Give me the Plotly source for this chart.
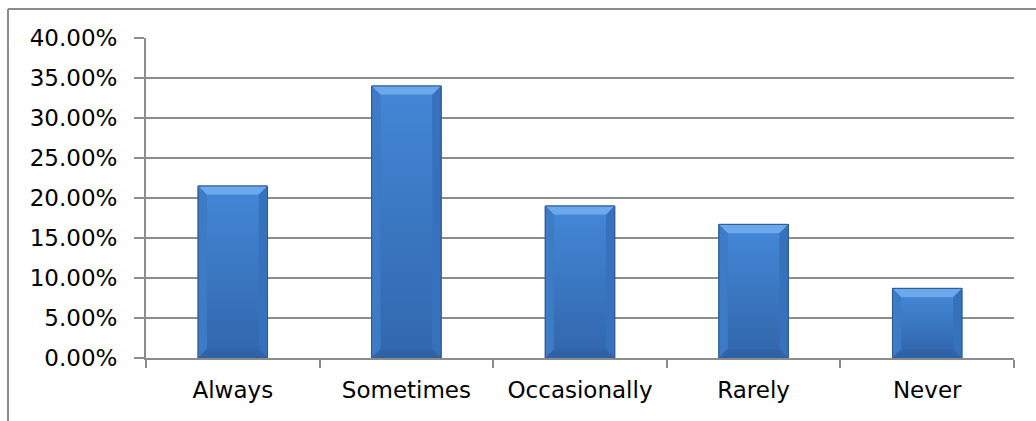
import plotly.graph_objects as go

# Survey response shares
categories = ["Always", "Sometimes", "Occasionally", "Rarely", "Never"]
shares = [0.215, 0.340, 0.190, 0.167, 0.087]

y_ticks = [0.00, 0.05, 0.10, 0.15, 0.20, 0.25, 0.30, 0.35, 0.40]

BAR_W = 0.4      # bar width in category units
BEVEL_X = 0.05   # bevel inset, category units
BEVEL_Y = 0.011  # bevel inset, value units

fig = go.Figure()

# Base bars on the category axis
fig.add_trace(go.Bar(
    x=categories, y=shares, width=BAR_W,
    marker=dict(color="#3A75BF", line=dict(color="#2C5A96", width=1)),
    hoverinfo="x+y", showlegend=False,
))

# Shaded faces and bevels drawn on a hidden linear axis aligned with the categories
shapes = []
for i, v in enumerate(shares):
    x0, x1 = i - BAR_W / 2, i + BAR_W / 2
    ix0, ix1 = x0 + BEVEL_X, x1 - BEVEL_X
    top, itop, ibot = v, v - BEVEL_Y, BEVEL_Y
    # gradient face
    fig.add_trace(go.Scatter(
        x=[ix0, ix1, ix1, ix0, ix0], y=[ibot, ibot, itop, itop, ibot],
        xaxis="x2", mode="lines", line=dict(width=0), fill="toself",
        fillgradient=dict(type="vertical",
                          colorscale=[[0, "#3268AE"], [1, "#4386D5"]]),
        hoverinfo="skip", showlegend=False,
    ))

    def poly(pts, color):
        path = "M " + " L ".join(f"{px},{py}" for px, py in pts) + " Z"
        return dict(type="path", path=path, xref="x2", yref="y",
                    fillcolor=color, line=dict(width=0), layer="above")

    shapes.append(poly([(x0, top), (x1, top), (ix1, itop), (ix0, itop)], "#6CA8EC"))
    shapes.append(poly([(x0, 0), (x0, top), (ix0, itop), (ix0, ibot)], "#3D7BC7"))
    shapes.append(poly([(x1, 0), (x1, top), (ix1, itop), (ix1, ibot)], "#3572BB"))
    shapes.append(poly([(x0, 0), (x1, 0), (ix1, ibot), (ix0, ibot)], "#2F62A6"))
    shapes.append(dict(type="rect", xref="x2", yref="y", x0=x0, x1=x1, y0=0, y1=top,
                       line=dict(color="#2C5A96", width=1), layer="above"))

# Chart frame (left and top edges)
shapes.append(dict(type="line", xref="paper", yref="paper",
                   x0=-0.159, x1=-0.159, y0=1.0906, y1=-0.25,
                   line=dict(color="#8C8C8C", width=2)))
shapes.append(dict(type="line", xref="paper", yref="paper",
                   x0=-0.159, x1=1.05, y0=1.0906, y1=1.0906,
                   line=dict(color="#8C8C8C", width=2)))

font = dict(family="DejaVu Sans", size=23, color="#000000")

fig.update_layout(
    width=1036, height=421,
    margin=dict(l=146, r=22, t=38, b=63),
    paper_bgcolor="white", plot_bgcolor="white",
    font=font,
    bargap=0.6,
    shapes=shapes,
    xaxis=dict(
        type="category", range=[-0.5, 4.5],
        showgrid=False, showline=True, linecolor="#8C8C8C", linewidth=2,
        ticks="outside", tickson="boundaries", ticklen=8,
        tickcolor="#8C8C8C", tickwidth=2, ticklabelstandoff=10,
        tickfont=font, fixedrange=True,
    ),
    xaxis2=dict(
        overlaying="x", range=[-0.5, 4.5], visible=False, fixedrange=True,
    ),
    yaxis=dict(
        range=[0, 0.40], tickvals=y_ticks, tickformat=".2%",
        showgrid=True, gridcolor="#8C8C8C", gridwidth=2,
        showline=True, linecolor="#8C8C8C", linewidth=2,
        ticks="outside", ticklen=10, tickcolor="#8C8C8C", tickwidth=2,
        ticklabelstandoff=12, tickfont=font, zeroline=False, fixedrange=True,
    ),
)

fig.write_html("out.html")
